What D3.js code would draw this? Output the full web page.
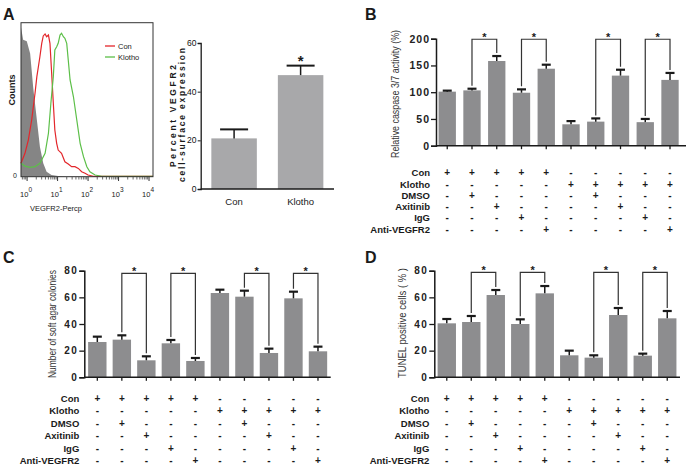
<!DOCTYPE html>
<html><head><meta charset="utf-8">
<script src="https://cdn.jsdelivr.net/npm/d3@7"></script>
<style>html,body{margin:0;padding:0;background:#fff;} svg{display:block;} #fig{opacity:0.999;}</style>
</head><body><svg id="fig" width="687" height="468"></svg>
<script>
// ---------- DATA ----------
// Panel A flow histogram (x = log10 intensity, y = % of max count)
const isoLog   = [-0.2, -0.13, -0.01, 0.1, 0.2, 0.32, 0.42, 0.53, 0.64, 0.8, 1.02, 1.3, 4.13];
const isoCount = [97, 89, 88, 80, 58, 37, 19.5, 8.7, 3.2, 1.1, 0.5, 0.2, 0.2];
const conLog   = [-0.2, -0.07, 0.04, 0.15, 0.26, 0.32, 0.37, 0.42, 0.48, 0.53, 0.59, 0.64, 0.7, 0.75, 0.8, 0.86, 0.91, 0.97, 1.02, 1.13, 1.24, 1.35, 1.46, 1.57, 1.68, 1.79, 1.9, 2.0, 2.17, 2.45, 4.13];
const conCount = [8.7, 15.2, 23.8, 36.8, 54.2, 65, 71.4, 77.9, 86.6, 91.4, 92.7, 90.9, 92, 86.6, 69.3, 47.7, 30.3, 21.7, 17.3, 15.2, 9.7, 8.2, 6.5, 6.5, 5.4, 3.2, 2.2, 1.1, 0.3, 0.2, 0.2];
const klothoLog   = [-0.2, -0.07, 0.1, 0.26, 0.42, 0.59, 0.7, 0.78, 0.86, 0.91, 0.97, 1.02, 1.08, 1.13, 1.19, 1.24, 1.3, 1.35, 1.41, 1.52, 1.63, 1.74, 1.85, 1.96, 2.06, 2.23, 2.45, 4.13];
const klothoCount = [8.7, 6.9, 6.1, 6.5, 8.7, 15.2, 28.2, 47.7, 65, 82.3, 84.4, 86.6, 92, 93.1, 90.9, 89.9, 86.6, 75.8, 62.8, 51.9, 36.8, 21.7, 13, 6.5, 3.2, 1.1, 0.3, 0.3];
const histDecades = [0, 1, 2, 3, 4];
const histSeries = ["Con", "Klotho"];

// Panel A bar chart
const vegfrGroups = ["Con", "Klotho"];
const vegfrMean = [20.8, 46.8];
const vegfrSem  = [3.7, 3.9];
const vegfrTicks = [0, 20, 40, 60];

// Treatment table (shared by B, C, D)
const treatmentRows = ["Con", "Klotho", "DMSO", "Axitinib", "IgG", "Anti-VEGFR2"];
const treatmentMatrix = [
  ["+","+","+","+","+","-","-","-","-","-"],
  ["-","-","-","-","-","+","+","+","+","+"],
  ["-","+","-","-","-","-","+","-","-","-"],
  ["-","-","+","-","-","-","-","+","-","-"],
  ["-","-","-","+","-","-","-","-","+","-"],
  ["-","-","-","-","+","-","-","-","-","+"]
];
const groupIds = [0,1,2,3,4,5,6,7,8,9];
const sigPairs = [[1,2],[3,4],[6,7],[8,9]];

// Panel B
const caspaseMean = [101, 103.4, 158.3, 99, 143.9, 40, 45, 131, 44, 123];
const caspaseSem  = [1.9, 3.1, 9.3, 6.3, 7.5, 6, 6, 11, 6, 13];
const caspaseTicks = [0, 50, 100, 150, 200];
const caspaseBracket = 199;

// Panel C
const coloniesMean = [26.5, 28.25, 12.75, 25.5, 12.25, 63.25, 60.5, 18.25, 59.25, 19.5];
const coloniesSem  = [4, 3.25, 3, 2.5, 2.25, 2.5, 4.5, 3.25, 5, 3.5];
const coloniesTicks = [0, 20, 40, 60, 80];
const coloniesBracket = 78;

// Panel D
const tunelMean = [40.5, 41.5, 61.75, 40, 63, 16.5, 14.75, 46.75, 16.25, 44.25];
const tunelSem  = [3.25, 4.5, 3.75, 3.5, 5.5, 3.5, 1.75, 5.25, 1.5, 5.5];
const tunelTicks = [0, 20, 40, 60, 80];
const tunelBracket = 78.75;

// ---------- DRAWING ----------
const svg = d3.select("#fig");
const FONT = "Arial, 'Liberation Sans', Helvetica, sans-serif";
const INK = "#1a1a1a";
svg.append("rect").attr("width", 687).attr("height", 468).attr("fill", "#fff");

function txt(g, t, x, y, o) {
  o = o || {};
  const e = g.append("text").attr("x", x).attr("y", y)
    .attr("font-family", o.family || FONT)
    .attr("font-size", o.size || 10)
    .attr("font-weight", o.weight || "normal")
    .attr("fill", o.fill || INK)
    .attr("text-anchor", o.anchor || "start")
    .text(t);
  if (o.baseline) e.attr("dominant-baseline", o.baseline);
  if (o.ls) e.attr("letter-spacing", o.ls);
  if (o.len) e.attr("textLength", o.len).attr("lengthAdjust", o.adjust || "spacingAndGlyphs");
  return e;
}
function vtxt(g, t, cx, cy, o) {
  const e = txt(g, t, 0, 0, Object.assign({anchor: "middle", baseline: "central"}, o));
  e.attr("transform", `translate(${cx},${cy}) rotate(-90)`);
  return e;
}

// Panel letters
txt(svg, "A", 3, 20, {size: 16, weight: "bold"});
txt(svg, "B", 365, 20, {size: 16, weight: "bold"});
txt(svg, "C", 3, 263, {size: 16, weight: "bold"});
txt(svg, "D", 365, 263, {size: 16, weight: "bold"});

// ----- A: histogram -----
(function () {
  const g = svg.append("g");
  const hx = d3.scaleLinear().domain([-0.2, 4.13]).range([21, 153]);
  const hy = d3.scaleLinear().domain([0, 100]).range([176.7, 22.7]);
  g.append("path").datum(d3.zip(isoLog, isoCount))
    .attr("d", d3.area().x(d => hx(d[0])).y0(hy(0)).y1(d => hy(d[1])))
    .attr("fill", "#858585");
  const line = d3.line().x(d => hx(d[0])).y(d => hy(d[1]));
  const colors = {Con: "#e3262b", Klotho: "#5cbf48"};
  g.append("path").datum(d3.zip(conLog, conCount)).attr("d", line)
    .attr("fill", "none").attr("stroke", colors.Con).attr("stroke-width", 1.2);
  g.append("path").datum(d3.zip(klothoLog, klothoCount)).attr("d", line)
    .attr("fill", "none").attr("stroke", colors.Klotho).attr("stroke-width", 1.2);
  g.append("rect").attr("x", 21).attr("y", 22.7).attr("width", 132).attr("height", 154)
    .attr("fill", "none").attr("stroke", "#333").attr("stroke-width", 1);
  // ticks
  const minor = [];
  for (let k = -1; k < 4; k++) for (let m = 2; m <= 9; m++) {
    const v = k + Math.log10(m);
    if (v > -0.2 && v < 4.13) minor.push(v);
  }
  g.selectAll(".mn").data(minor).enter().append("line")
    .attr("x1", d => hx(d)).attr("x2", d => hx(d)).attr("y1", 177).attr("y2", 179.5)
    .attr("stroke", "#444").attr("stroke-width", 0.8);
  g.selectAll(".mj").data(histDecades).enter().append("line")
    .attr("x1", d => hx(d)).attr("x2", d => hx(d)).attr("y1", 177).attr("y2", 181)
    .attr("stroke", "#333").attr("stroke-width", 1);
  histDecades.forEach(d => {
    const t = g.append("text").attr("x", hx(d) - 1).attr("y", 197)
      .attr("font-family", FONT).attr("font-size", 7.5).attr("fill", INK)
      .attr("text-anchor", "middle");
    t.append("tspan").text("10");
    t.append("tspan").attr("dy", -5).attr("font-size", 6.5).text(String(d));
  });
  txt(g, "0", 13, 178, {size: 7});
  vtxt(g, "Counts", 11.5, 90, {size: 9, weight: "bold"});
  txt(g, "VEGFR2-Percp", 56, 211, {size: 7.5, anchor: "middle"});
  // legend
  histSeries.forEach((s, i) => {
    const y = 46 + i * 11;
    g.append("line").attr("x1", 105).attr("x2", 115).attr("y1", y).attr("y2", y)
      .attr("stroke", colors[s]).attr("stroke-width", 1.3);
    txt(g, s, 118, y, {size: 7.5, baseline: "central"});
  });
})();

// ----- A: bar chart -----
(function () {
  const g = svg.append("g");
  const y = d3.scaleLinear().domain([0, 60]).range([189, 43]);
  const x = d3.scaleBand().domain(vegfrGroups).range([200.7, 334])
    .paddingInner(0.316).paddingOuter(0.16).align(0.5);
  g.selectAll(".bar").data(vegfrGroups).enter().append("rect")
    .attr("x", d => x(d)).attr("width", x.bandwidth())
    .attr("y", (d, i) => y(vegfrMean[i])).attr("height", (d, i) => y(0) - y(vegfrMean[i]))
    .attr("fill", "#a8a8aa");
  vegfrGroups.forEach((d, i) => {
    const cx = x(d) + x.bandwidth() / 2;
    const top = y(vegfrMean[i] + vegfrSem[i]);
    g.append("line").attr("x1", cx).attr("x2", cx).attr("y1", y(vegfrMean[i])).attr("y2", top)
      .attr("stroke", INK).attr("stroke-width", 1.5);
    g.append("line").attr("x1", cx - 14).attr("x2", cx + 14).attr("y1", top).attr("y2", top)
      .attr("stroke", INK).attr("stroke-width", 2);
  });
  const ag = g.append("g").attr("transform", "translate(200.7,0)")
    .call(d3.axisLeft(y).tickValues(vegfrTicks).tickSize(3).tickFormat(""));
  ag.select(".domain").attr("stroke", INK).attr("stroke-width", 1.3);
  ag.selectAll(".tick line").attr("stroke", INK);
  vegfrTicks.forEach(v => txt(g, String(v), 196.5, y(v), {size: 8.5, anchor: "end", baseline: "central", fill: "#111"}));
  g.append("line").attr("x1", 200.7).attr("x2", 334).attr("y1", 189).attr("y2", 189)
    .attr("stroke", INK).attr("stroke-width", 1.3);
  vegfrGroups.forEach(d => txt(g, d, x(d) + x.bandwidth() / 2, 205, {size: 9.5, anchor: "middle"}));
  vtxt(g, "Percent VEGFR2", 172.5, 116, {size: 8.5, weight: "bold", len: 102, adjust: "spacing"});
  vtxt(g, "cell-surface expression", 182, 115, {size: 8.5, weight: "bold", len: 134, adjust: "spacing"});
  txt(g, "*", x("Klotho") + x.bandwidth() / 2, 66, {size: 15, weight: "bold", anchor: "middle"});
})();

// ----- B, C, D -----
function barPanel(cfg) {
  const g = svg.append("g");
  const y = d3.scaleLinear().domain([0, cfg.max]).range([cfg.y0, cfg.y1]);
  const x = d3.scaleBand().domain(groupIds).range([cfg.x0, cfg.x1])
    .paddingInner(cfg.pi).paddingOuter(cfg.po).align(cfg.align);
  const cx = i => x(i) + x.bandwidth() / 2;
  g.selectAll(".bar").data(groupIds).enter().append("rect")
    .attr("x", d => x(d)).attr("width", x.bandwidth())
    .attr("y", d => y(cfg.mean[d])).attr("height", d => y(0) - y(cfg.mean[d]))
    .attr("fill", "#8d8d8f");
  groupIds.forEach(i => {
    const top = y(cfg.mean[i] + cfg.sem[i]);
    g.append("line").attr("x1", cx(i)).attr("x2", cx(i)).attr("y1", y(cfg.mean[i])).attr("y2", top)
      .attr("stroke", INK).attr("stroke-width", 1.5);
    g.append("line").attr("x1", cx(i) - 4.5).attr("x2", cx(i) + 4.5).attr("y1", top).attr("y2", top)
      .attr("stroke", INK).attr("stroke-width", 2.2);
  });
  // y axis
  const ag = g.append("g").attr("transform", `translate(${cfg.x0},0)`)
    .call(d3.axisLeft(y).tickValues(cfg.ticks).tickSize(5).tickPadding(1));
  ag.select(".domain").attr("stroke", INK).attr("stroke-width", 1.5);
  ag.selectAll(".tick line").attr("stroke", INK).attr("stroke-width", 1.3);
  ag.selectAll(".tick text").attr("font-family", FONT).attr("font-weight", "bold")
    .attr("font-size", cfg.tickSize).attr("letter-spacing", cfg.tickLs).attr("fill", "#222");
  // x axis
  g.append("line").attr("x1", cfg.x0).attr("x2", cfg.x1).attr("y1", cfg.y0).attr("y2", cfg.y0)
    .attr("stroke", INK).attr("stroke-width", 1.5);
  g.selectAll(".xt").data(groupIds).enter().append("line")
    .attr("x1", d => cx(d)).attr("x2", d => cx(d)).attr("y1", cfg.y0).attr("y2", cfg.y0 + 3.5)
    .attr("stroke", INK).attr("stroke-width", 1.3);
  // y label
  vtxt(g, cfg.label, cfg.labelX, cfg.labelY, {size: 10.5, fill: "#333", len: cfg.labelLen});
  // brackets
  sigPairs.forEach(([a, b]) => {
    const ya = y(cfg.mean[a] + cfg.sem[a]) - 3;
    const yb = y(cfg.mean[b] + cfg.sem[b]) - 3;
    const yl = y(cfg.bracket);
    g.append("path").attr("d", `M${cx(a)},${ya}V${yl}H${cx(b)}V${yb}`)
      .attr("fill", "none").attr("stroke", "#333").attr("stroke-width", 1.2);
    txt(g, "*", (cx(a) + cx(b)) / 2, yl + 1.5, {size: 11, weight: "bold", anchor: "middle"});
  });
  // treatment table
  treatmentRows.forEach((r, ri) => {
    const ry = cfg.tableY + ri * cfg.tableStep;
    txt(g, r, cfg.tableLabelX, ry, {size: 9.5, weight: "bold", anchor: "end", baseline: "central"});
    groupIds.forEach(i => {
      txt(g, treatmentMatrix[ri][i], cx(i), ry, {size: 10, weight: "bold", anchor: "middle", baseline: "central"});
    });
  });
}

barPanel({
  mean: caspaseMean, sem: caspaseSem, ticks: caspaseTicks, max: 200, bracket: caspaseBracket,
  x0: 436, x1: 686, y0: 145.7, y1: 38.7, pi: 0.3, po: 0.2, align: 0.26,
  tickSize: 10.5, tickLs: 1,
  label: "Relative caspase 3/7 activity (%)", labelX: 395, labelY: 94, labelLen: 128,
  tableY: 172.7, tableStep: 11.3, tableLabelX: 430
});
barPanel({
  mean: coloniesMean, sem: coloniesSem, ticks: coloniesTicks, max: 80, bracket: coloniesBracket,
  x0: 84.3, x1: 330.7, y0: 377.3, y1: 270.7, pi: 0.25, po: 0.15, align: 0.52,
  tickSize: 10, tickLs: 1.5,
  label: "Number of soft agar colonies", labelX: 52, labelY: 324, labelLen: 108,
  tableY: 398.3, tableStep: 12.5, tableLabelX: 79.3
});
barPanel({
  mean: tunelMean, sem: tunelSem, ticks: tunelTicks, max: 80, bracket: tunelBracket,
  x0: 434.3, x1: 680, y0: 377.3, y1: 270.7, pi: 0.25, po: 0.14, align: 0.48,
  tickSize: 10, tickLs: 1.5,
  label: "TUNEL positive cells ( % )", labelX: 401.7, labelY: 323, labelLen: 110,
  tableY: 398.3, tableStep: 12.5, tableLabelX: 429.3
});
</script>
</body></html>
